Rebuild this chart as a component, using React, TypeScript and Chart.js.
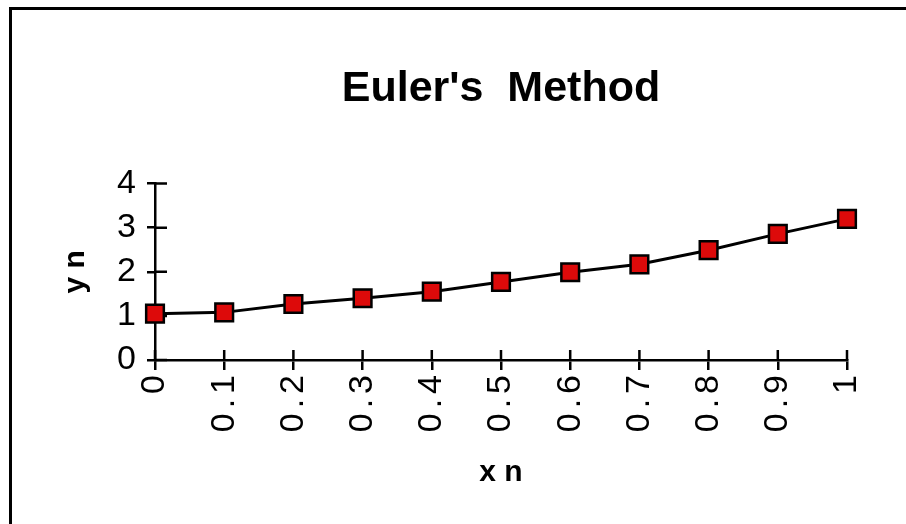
import React, { useEffect, useRef } from 'react';
import { Chart, registerables } from 'chart.js';

Chart.register(...registerables);

const xLabels = ['0', '0.1', '0.2', '0.3', '0.4', '0.5', '0.6', '0.7', '0.8', '0.9', '1'];
const yValues = [1.05, 1.08, 1.27, 1.4, 1.55, 1.77, 1.99, 2.17, 2.49, 2.86, 3.2];
const yTicks = [0, 1, 2, 3, 4];
const titleText = "Euler's  Method";
const xTitle = 'x n';
const yTitle = 'y n';

const FONT = "'Liberation Sans', Arial, Helvetica, sans-serif";

const framePlugin = {
  id: 'frame',
  beforeDraw(chart: any) {
    const ctx = chart.ctx;
    ctx.save();
    ctx.fillStyle = '#ffffff';
    ctx.fillRect(0, 0, chart.width, chart.height);
    ctx.strokeStyle = '#000000';
    ctx.lineWidth = 3;
    ctx.strokeRect(10.5, 8.5, chart.width + 200, chart.height + 200);
    ctx.restore();
  },
};

// wider letter spacing for the rotated x tick labels (as in the reference)
const spacingPlugin = {
  id: 'xLabelSpacing',
  afterLayout(chart: any) {
    const s = chart.scales.x;
    if (!s || s.__spaced) return;
    const orig = s.drawLabels.bind(s);
    s.drawLabels = (area: any) => {
      const ctx = chart.ctx;
      ctx.save();
      (ctx as any).letterSpacing = '5px';
      orig(area);
      ctx.restore();
    };
    s.__spaced = true;
  },
};

// draws the inner half of the "cross" tick marks, positioned by the scales
const crossTicksPlugin = {
  id: 'crossTicks',
  beforeDatasetsDraw(chart: any) {
    const ctx = chart.ctx;
    const xs = chart.scales.x;
    const ys = chart.scales.y;
    const area = chart.chartArea;
    ctx.save();
    ctx.strokeStyle = '#000000';
    ctx.lineWidth = 2.5;
    ctx.beginPath();
    for (let i = 0; i < xs.ticks.length; i++) {
      const x = xs.getPixelForTick(i);
      ctx.moveTo(x, area.bottom);
      ctx.lineTo(x, area.bottom - 10);
    }
    for (let i = 0; i < ys.ticks.length; i++) {
      const y = ys.getPixelForTick(i);
      ctx.moveTo(area.left, y);
      ctx.lineTo(area.left + 12, y);
    }
    ctx.stroke();
    ctx.restore();
  },
};

export default function App() {
  const ref = useRef<HTMLCanvasElement | null>(null);

  useEffect(() => {
    document.body.style.margin = '0';
    const canvas = ref.current;
    if (!canvas) return;
    const chart = new Chart(canvas, {
      type: 'line',
      data: {
        labels: xLabels,
        datasets: [
          {
            data: yValues,
            borderColor: '#000000',
            borderWidth: 3,
            pointStyle: 'rect',
            pointRadius: 12.5,
            pointHoverRadius: 12.5,
            pointBackgroundColor: '#dd0a0a',
            pointBorderColor: '#000000',
            pointBorderWidth: 2.5,
            tension: 0,
            fill: false,
          },
        ],
      },
      options: {
        responsive: false,
        animation: false,
        devicePixelRatio: 1,
        layout: { padding: { left: 0, right: 59, top: 0, bottom: 0 } },
        plugins: {
          legend: { display: false },
          tooltip: { enabled: false },
          title: {
            display: true,
            text: titleText,
            fullSize: false,
            color: '#000000',
            font: { family: FONT, size: 43, weight: 'bold' },
            padding: { top: 63, bottom: 69 },
          },
        },
        scales: {
          x: {
            type: 'category',
            offset: false,
            grid: {
              display: true,
              drawOnChartArea: false,
              drawTicks: true,
              tickLength: 10,
              color: '#000000',
              lineWidth: 2.5,
            },
            border: { display: true, color: '#000000', width: 2.5 },
            ticks: {
              autoSkip: false,
              minRotation: 90,
              maxRotation: 90,
              padding: 0,
              color: '#000000',
              font: { family: FONT, size: 34 },
            },
            title: {
              display: true,
              text: xTitle,
              color: '#000000',
              font: { family: FONT, size: 30, weight: 'bold' },
              padding: { top: 0, bottom: 33 },
            },
            afterFit: (s: any) => {
              s.height = 164;
            },
          },
          y: {
            type: 'linear',
            min: 0,
            max: 4,
            afterBuildTicks: (s: any) => {
              s.ticks = yTicks.map((v) => ({ value: v }));
            },
            grid: {
              display: true,
              drawOnChartArea: false,
              drawTicks: true,
              tickLength: 8,
              color: '#000000',
              lineWidth: 2.5,
            },
            border: { display: true, color: '#000000', width: 2.5 },
            ticks: {
              padding: 11,
              color: '#000000',
              font: { family: FONT, size: 34 },
            },
            title: {
              display: true,
              text: yTitle,
              color: '#000000',
              font: { family: FONT, size: 30, weight: 'bold' },
              padding: { top: 58, bottom: 0 },
            },
            afterFit: (s: any) => {
              s.width = 155;
            },
          },
        },
      },
      plugins: [framePlugin, spacingPlugin, crossTicksPlugin],
    } as any);
    return () => chart.destroy();
  }, []);

  return (
    <div style={{ width: 906, height: 524, overflow: 'hidden' }}>
      <canvas ref={ref} width={906} height={524} style={{ display: 'block', width: 906, height: 524 }} />
    </div>
  );
}
